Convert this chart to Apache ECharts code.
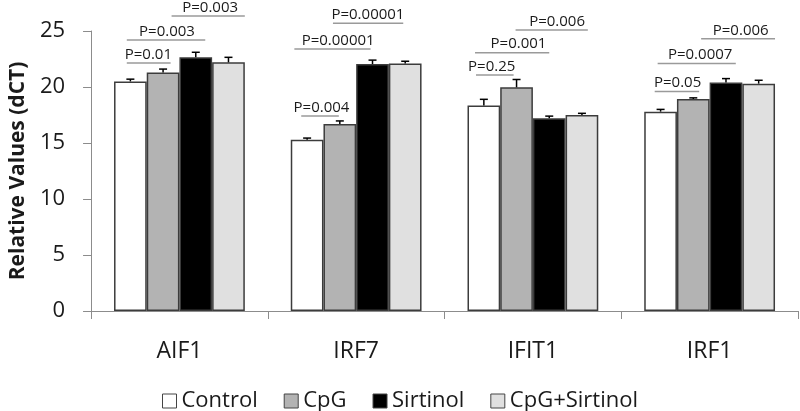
<!DOCTYPE html>
<html>
<head>
<meta charset="utf-8">
<script src="https://cdn.jsdelivr.net/npm/echarts@6/dist/echarts.min.js"></script>
<style>html,body{margin:0;padding:0;background:#fff;}#c{width:800px;height:411px;}</style>
</head>
<body>
<div id="c"></div>
<script>
// ---- data ----
var categories = ['AIF1', 'IRF7', 'IFIT1', 'IRF1'];
var seriesNames = ['Control', 'CpG', 'Sirtinol', 'CpG+Sirtinol'];
var controlVals = [20.5, 15.3, 18.35, 17.8];
var cpgVals = [21.3, 16.7, 19.97, 18.93];
var sirtinolVals = [22.65, 22.05, 17.2, 20.4];
var comboVals = [22.2, 22.1, 17.5, 20.3];
var controlErr = [0.2, 0.14, 0.55, 0.2];
var cpgErr = [0.3, 0.27, 0.7, 0.1];
var sirtinolErr = [0.45, 0.35, 0.2, 0.35];
var comboErr = [0.45, 0.2, 0.15, 0.3];
var yTicks = [0, 5, 10, 15, 20, 25];
// p-value annotations: category index, span start/end and label centre in bar slots (0..4), level (dCT), label
var pAnnotations = [
  [0, 0.39, 1.73, 1.05, 22.14, 'P=0.01'],
  [0, 0.39, 2.79, 1.62, 24.2, 'P=0.003'],
  [0, 1.76, 4.0, 2.94, 26.35, 'P=0.003'],
  [1, 0.32, 1.47, 0.94, 17.4, 'P=0.004'],
  [1, 0.11, 2.44, 1.45, 23.4, 'P=0.00001'],
  [1, 1.29, 3.44, 2.36, 25.7, 'P=0.00001'],
  [2, 0.26, 1.41, 0.74, 21.07, 'P=0.25'],
  [2, 0.23, 2.5, 1.56, 23.06, 'P=0.001'],
  [2, 1.47, 3.68, 2.74, 25.09, 'P=0.006'],
  [3, 0.32, 1.68, 1.02, 19.6, 'P=0.05'],
  [3, 0.41, 2.8, 1.71, 22.1, 'P=0.0007'],
  [3, 1.74, 4.0, 2.95, 24.3, 'P=0.006']
];

// ---- chart ----
var FONT = '"Open Sans", sans-serif';
var catGap = 0.26;
var colors = ['#ffffff', '#b3b3b3', '#000000', '#e0e0e0'];
var allVals = [controlVals, cpgVals, sirtinolVals, comboVals];
var allErr = [controlErr, cpgErr, sirtinolErr, comboErr];

var errData = [];
for (var s = 0; s < 4; s++) {
  for (var c = 0; c < categories.length; c++) {
    errData.push([c, s, allVals[s][c], allErr[s][c]]);
  }
}
function slotX(api, cat, slot) {
  var center = api.coord([cat, 0])[0];
  var band = api.size([1, 0])[0];
  var bw = band * (1 - catGap) / 4;
  return center - 2 * bw + slot * bw;
}

var series = seriesNames.map(function (name, i) {
  return {
    name: name,
    type: 'bar',
    data: allVals[i],
    barGap: '0%',
    barCategoryGap: (catGap * 100) + '%',
    itemStyle: { color: colors[i], borderColor: '#3c3c3c', borderWidth: 1.5 },
    z: 2
  };
});

series.push({
  type: 'custom',
  name: 'err',
  data: errData,
  z: 5,
  clip: false,
  renderItem: function (params, api) {
    var cat = api.value(0), slot = api.value(1), v = api.value(2), e = api.value(3);
    var x = slotX(api, cat, slot + 0.5);
    var yb = api.coord([cat, v])[1];
    var yt = api.coord([cat, v + e])[1];
    var st = { stroke: '#000', lineWidth: 1.5 };
    return {
      type: 'group',
      children: [
        { type: 'line', shape: { x1: x, y1: yb, x2: x, y2: yt }, style: st },
        { type: 'line', shape: { x1: x - 4, y1: yt, x2: x + 4, y2: yt }, style: st }
      ]
    };
  }
});

series.push({
  type: 'custom',
  name: 'pvals',
  data: pAnnotations.map(function (a) { return [a[0], a[1], a[2], a[3], a[4]]; }),
  z: 6,
  clip: false,
  renderItem: function (params, api) {
    var cat = api.value(0);
    var x0 = slotX(api, cat, api.value(1));
    var x1 = slotX(api, cat, api.value(2));
    var xt = slotX(api, cat, api.value(3));
    var y = api.coord([cat, api.value(4)])[1];
    return {
      type: 'group',
      children: [
        { type: 'line', shape: { x1: x0, y1: y, x2: x1, y2: y }, style: { stroke: '#9a9a9a', lineWidth: 1.5 } },
        { type: 'text', x: xt, y: y - 1, style: {
            text: pAnnotations[params.dataIndex][5], fill: '#1a1a1a',
            font: '15px ' + FONT, align: 'center', verticalAlign: 'bottom' } }
      ]
    };
  }
});

var chart = echarts.init(document.getElementById('c'), null, { renderer: 'canvas' });
chart.setOption({
  animation: false,
  backgroundColor: '#ffffff',
  textStyle: { fontFamily: FONT },
  grid: { left: 82, right: 2, top: 31, bottom: 100, containLabel: false },
  legend: {
    data: seriesNames,
    top: 385,
    left: 'center',
    icon: 'rect',
    itemWidth: 14,
    itemHeight: 14,
    itemGap: 26,
    itemStyle: { borderColor: '#444', borderWidth: 1 },
    textStyle: { fontSize: 22, color: '#1a1a1a', fontFamily: FONT }
  },
  xAxis: {
    type: 'category',
    data: categories,
    axisLine: { lineStyle: { color: '#8c8c8c', width: 1 } },
    axisTick: { show: true, length: 8, lineStyle: { color: '#8c8c8c' } },
    axisLabel: { fontSize: 23, color: '#1a1a1a', margin: 29, fontFamily: FONT }
  },
  yAxis: {
    type: 'value',
    min: yTicks[0],
    max: yTicks[yTicks.length - 1],
    interval: yTicks[1] - yTicks[0],
    name: 'Relative Values (dCT)',
    nameLocation: 'middle',
    nameRotate: 90,
    nameGap: 58,
    nameTextStyle: { fontSize: 21, fontWeight: 'bold', color: '#1a1a1a', fontFamily: FONT },
    axisLine: { show: true, lineStyle: { color: '#8c8c8c', width: 1 } },
    axisTick: { show: true, length: 8, lineStyle: { color: '#8c8c8c' } },
    splitLine: { show: false },
    axisLabel: { fontSize: 22, color: '#1a1a1a', margin: 26, fontFamily: FONT }
  },
  series: series
});
</script>
</body>
</html>
